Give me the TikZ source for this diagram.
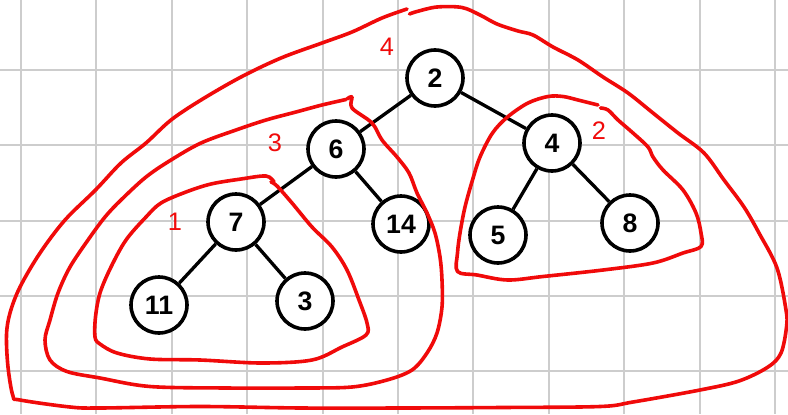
\documentclass[tikz,border=0pt]{standalone}
\usepackage{fontspec}
\setmainfont{Liberation Sans}
\begin{document}
\begin{tikzpicture}[x=0.75pt,y=-0.75pt,
  gridline/.style={draw=gridgray,line width=1.5pt},
  vert/.style={circle,draw=black,fill=white,line width=2.7pt,minimum size=42pt,inner sep=0pt,font=\fontsize{20}{22}\selectfont\bfseries},
  edge/.style={draw=black,line width=2.5pt},
  loop/.style={draw=hred,line width=2.7pt,line cap=round,line join=round},
  lab/.style={text=hred,font=\fontsize{19}{21}\selectfont,inner sep=0pt}]
\definecolor{gridgray}{RGB}{205,205,205}
\definecolor{hred}{RGB}{240,10,10}
\fill[white] (0,0) rectangle (788,414);
\useasboundingbox (0,0) rectangle (788,414);
% grid
\foreach \k in {0,...,10} { \draw[gridline] ({21+75.4*\k},0) -- ({21+75.4*\k},414); }
\foreach \k in {0,...,4} { \draw[gridline] (0,{70+75.3*\k}) -- (788,{70+75.3*\k}); }
% nodes (positions)
\node[vert] (n2) at (435,78) {2};
\node[vert] (n6) at (336,149) {6};
\node[vert] (n4) at (552,143) {4};
\node[vert] (n7) at (236,222) {7};
\node[vert] (n14) at (401,224) {14};
\node[vert] (n5) at (498,235) {5};
\node[vert] (n8) at (630,223) {8};
\node[vert] (n11) at (159,305) {11};
\node[vert] (n3) at (305,301) {3};
% edges
\draw[edge] (n2) -- (n6);
\draw[edge] (n2) -- (n4);
\draw[edge] (n6) -- (n7);
\draw[edge] (n6) -- (n14);
\draw[edge] (n7) -- (n11);
\draw[edge] (n7) -- (n3);
\draw[edge] (n4) -- (n5);
\draw[edge] (n4) -- (n8);
% loop 1
\draw[loop] plot[smooth,tension=0.55] coordinates {
 (274,182) (266,176) (241,179) (211,184) (186,192) (161,203) (146,217) (126,240)
 (111,267) (100,293) (95.5,317) (95,337) (100,344) (117,353) (150,359) (200,360)
 (261,363) (312,360) (342,347) (366,335) (367,323) (359,300) (347,270) (332,247)
 (312,227) (292,203) (277,186) (271,182)};
% loop 3
\draw[loop] plot[smooth,tension=0.55] coordinates {
 (347,99) (352,97) (352,108) (372,123) (382,140) (397,157) (409,173) (417,193)
 (427,213) (435,233) (440,257) (442,280) (442,307) (437,333) (427,353) (412,370)
 (387,380) (352,387) (301,388) (226,388) (150,386.5) (100,378) (67,371.5) (50,360)
 (45,340) (50,320) (58,293) (70,267) (88,240) (105,217) (121,200) (146,177)
 (171,160) (201,143) (236,130) (266,120) (296,112) (322,105) (346,99.5)};
% loop 4
\draw[loop] plot[smooth,tension=0.55] coordinates {
 (407,9) (382,18) (352,32) (322,43) (281,58) (241,77) (201,100) (171,120)
 (146,143) (121,163) (95.5,190) (65,220) (40,253) (20,287) (10,313) (6.5,335)
 (8,367) (13,396) (20,400) (70,407) (100,408) (200,406.5) (301,408) (402,408)
 (502,407.5) (600,406.5) (633,402) (700,390) (739,381) (768,367) (781,353)
 (786.5,327) (786,310) (777,268) (759,233) (744,207) (724,180) (704,153) (678,133)
 (653,113) (628,93) (603,77) (578,60) (553,47) (533,35) (518,31) (497,24)
 (480,15) (462,7.5) (437,7) (417,11.5) (409.5,14)};
% loop 2
\draw[loop] plot[smooth,tension=0.55] coordinates {
 (598,105) (578,100) (563,96.5) (548,96.5) (528,103) (507.5,117) (492.5,133)
 (480,157) (472.5,180) (465,207) (460,233) (457.5,253) (457.5,271.5) (477,275)
 (507.5,280) (543,276.5) (603,270) (653,263) (683,253) (701,246.5) (701,233)
 (696,213) (683,190) (663,170) (653,157) (648,147) (633,133) (618,120) (608,110)
 (600.5,108)};
% labels
\node[lab] (l4) at (387,47) {4};
\node[lab] (l3) at (275,143) {3};
\node[lab] (l1) at (175,222) {1};
\node[lab] (l2) at (599,131) {2};
\end{tikzpicture}
\end{document}
